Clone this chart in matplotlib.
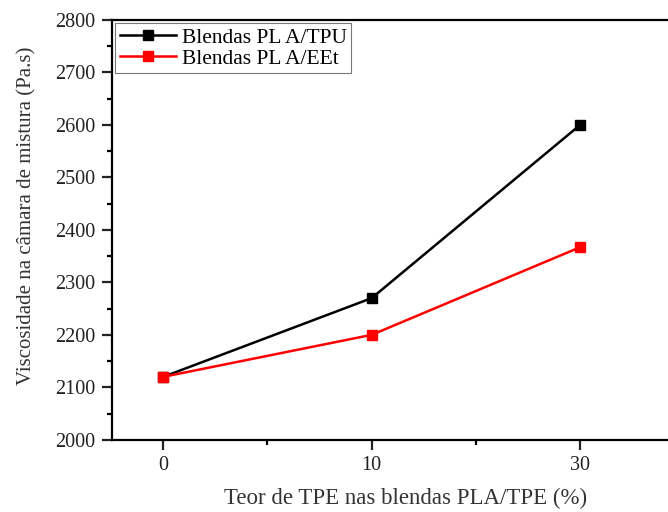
import matplotlib
matplotlib.use('Agg')
import matplotlib.pyplot as plt
from matplotlib.ticker import MultipleLocator, FixedLocator

tpe_labels = ['0', '10', '30']
tpu_values = [2120, 2270, 2600]
eet_values = [2120, 2200, 2367]

plt.rcParams['font.family'] = ['Liberation Serif', 'DejaVu Serif']

fig = plt.figure(figsize=(6.68, 5.12), dpi=100)
# the original figure is cropped on the right, so the axes run past the edge
ax = fig.add_axes([0.168, 0.141, 0.877, 0.82])

x = list(range(len(tpe_labels)))
ax.plot(x, tpu_values, color='black', marker='s', markersize=6.5, lw=1.8, label='Blendas PL A/TPU')
ax.plot(x, eet_values, color='#ff0000', marker='s', markersize=6.5, lw=1.8, label='Blendas PL A/EEt')

ax.set_xlim(-0.245, 2.566)
ax.set_ylim(2000, 2800)
ax.set_xticks(x)
ax.set_xticklabels(tpe_labels)
ax.xaxis.set_minor_locator(FixedLocator([0.5, 1.5, 2.5]))
ax.yaxis.set_major_locator(MultipleLocator(100))
ax.yaxis.set_minor_locator(MultipleLocator(50))
ax.tick_params(which='major', direction='out', length=7, width=1.6, labelsize=14.5,
               colors='#222222', pad=5)
ax.tick_params(which='minor', direction='out', length=3.5, width=1.6)
for s in ax.spines.values():
    s.set_linewidth(1.6)

ax.set_xlabel('Teor de TPE nas blendas PLA/TPE (%)', fontsize=16.5, color='#333333', labelpad=9)
ax.set_ylabel('Viscosidade na câmara de mistura (Pa.s)', fontsize=15, color='#333333')
ax.yaxis.set_label_coords(-0.129, 0.533)

leg = ax.legend(loc='upper left', fontsize=15.5, fancybox=False, borderaxespad=0.15,
                handlelength=2.6, borderpad=0.2, labelspacing=0.05, handletextpad=0.3)
leg.get_frame().set_edgecolor('#555555')
leg.get_frame().set_linewidth(0.8)

fig.savefig('out.png', dpi=100)
